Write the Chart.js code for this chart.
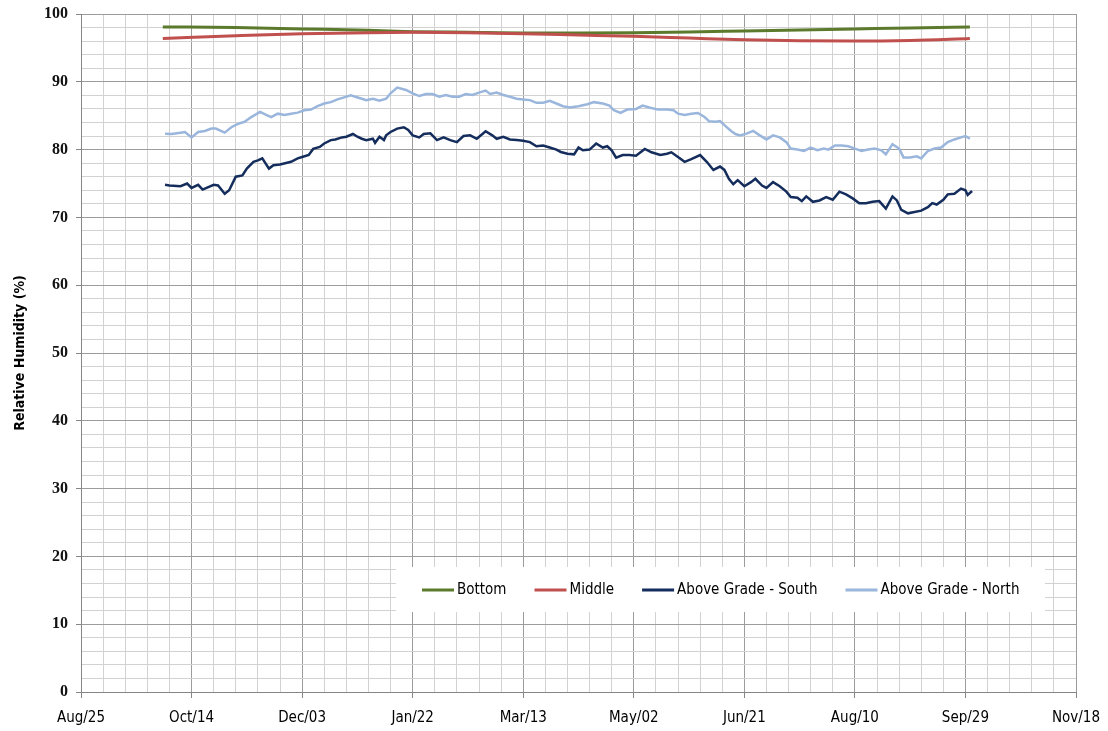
<!DOCTYPE html>
<html>
<head>
<meta charset="utf-8">
<title>Relative Humidity</title>
<script src="https://cdn.jsdelivr.net/npm/chart.js@4.4.1/dist/chart.umd.min.js"></script>
<style>
    body { margin: 0; background: #fff; }
    #wrap { width: 1108px; height: 731px; }
</style>
</head>
<body>
<div id="wrap"><canvas id="rh-chart" width="1108" height="731"></canvas></div>
<script>
// ===== DATA =====
// x values are days after Aug/25
const xTickLabels = ['Aug/25', 'Oct/14', 'Dec/03', 'Jan/22', 'Mar/13', 'May/02', 'Jun/21', 'Aug/10', 'Sep/29', 'Nov/18'];
const seriesNames = ['Bottom', 'Middle', 'Above Grade - South', 'Above Grade - North'];

const bottomDays = [37, 70, 100, 130, 150, 175, 200, 225, 250, 275, 300, 325, 350, 375, 402];
const bottomRH   = [98.1, 98.0, 97.8, 97.6, 97.4, 97.3, 97.2, 97.2, 97.25, 97.35, 97.5, 97.65, 97.8, 97.95, 98.1];

const middleDays = [37, 70, 100, 130, 150, 175, 200, 225, 250, 275, 300, 325, 350, 375, 402];
const middleRH   = [96.4, 96.8, 97.1, 97.25, 97.3, 97.25, 97.1, 96.9, 96.7, 96.45, 96.2, 96.05, 96.0, 96.1, 96.4];

const southDays = [38, 40, 45, 48, 50, 53, 55, 60, 62, 65, 67, 70, 73, 75, 78, 80, 82, 85, 87, 90,
    95, 98, 100, 103, 105, 108, 110, 113, 115, 118, 120, 123, 125, 127, 129, 132, 133, 135, 137, 138,
    140, 143, 146, 148, 150, 153, 155, 158, 161, 164, 167, 170, 173, 176, 179, 183, 186, 188, 191, 194,
    197, 200, 203, 206, 209, 212, 215, 217, 220, 223, 225, 227, 230, 233, 236, 238, 240, 242, 245, 248,
    251, 255, 258, 262, 265, 267, 270, 273, 276, 280, 283, 286, 289, 291, 293, 295, 297, 300, 303, 305,
    308, 310, 313, 316, 319, 321, 324, 326, 328, 331, 334, 337, 340, 343, 346, 349, 352, 355, 358, 361,
    364, 367, 369, 371, 374, 377, 380, 383, 385, 387, 390, 392, 395, 398, 400, 401, 403];
const southRH = [74.8, 74.7, 74.6, 75.0, 74.35, 74.8, 74.1, 74.8, 74.7, 73.5, 74.0, 76.0, 76.2, 77.2, 78.2, 78.4, 78.7, 77.2, 77.7, 77.8,
    78.2, 78.7, 78.9, 79.2, 80.1, 80.4, 80.9, 81.4, 81.5, 81.8, 81.9, 82.3, 81.9, 81.6, 81.4, 81.6, 81.0, 81.9, 81.4, 82.1,
    82.6, 83.1, 83.3, 82.9, 82.1, 81.8, 82.3, 82.4, 81.4, 81.8, 81.4, 81.1, 82.0, 82.1, 81.6, 82.7, 82.1, 81.6, 81.9, 81.5,
    81.4, 81.3, 81.1, 80.5, 80.6, 80.3, 80.0, 79.65, 79.4, 79.3, 80.3, 79.9, 80.0, 80.9, 80.3, 80.5, 79.9, 78.8, 79.2, 79.2,
    79.1, 80.1, 79.6, 79.2, 79.4, 79.6, 78.9, 78.2, 78.6, 79.2, 78.2, 77.0, 77.5, 77.0, 75.7, 74.9, 75.5, 74.6, 75.2, 75.7,
    74.7, 74.35, 75.2, 74.6, 73.8, 73.0, 72.9, 72.4, 73.1, 72.3, 72.5, 73.0, 72.6, 73.8, 73.4, 72.8, 72.1, 72.1, 72.3, 72.4,
    71.3, 73.1, 72.5, 71.1, 70.6, 70.8, 71.0, 71.5, 72.1, 71.9, 72.6, 73.4, 73.5, 74.25, 74.0, 73.3, 73.9];

const northDays = [38, 41, 45, 47, 50, 53, 56, 59, 61, 65, 68, 71, 74, 77, 81, 84, 86, 89, 92, 95,
    98, 101, 104, 107, 110, 113, 116, 119, 122, 124, 127, 129, 132, 135, 138, 140, 143, 147, 150, 153,
    156, 159, 162, 165, 168, 171, 174, 177, 180, 183, 185, 188, 191, 194, 197, 200, 203, 206, 209, 212,
    215, 218, 221, 225, 229, 232, 236, 239, 241, 244, 247, 251, 254, 257, 261, 265, 268, 270, 273, 276,
    279, 282, 284, 287, 289, 291, 294, 296, 298, 301, 304, 307, 310, 313, 316, 319, 321, 324, 327, 330,
    333, 336, 338, 341, 344, 347, 350, 353, 356, 359, 362, 364, 367, 370, 372, 375, 378, 380, 383, 386,
    389, 392, 395, 398, 400, 402];
const northRH = [82.35, 82.3, 82.5, 82.6, 81.8, 82.6, 82.75, 83.1, 83.1, 82.5, 83.3, 83.8, 84.1, 84.8, 85.55, 85.1, 84.8, 85.3, 85.1, 85.3,
    85.45, 85.8, 85.9, 86.4, 86.8, 87.0, 87.4, 87.7, 88.0, 87.8, 87.5, 87.3, 87.5, 87.2, 87.5, 88.3, 89.15, 88.8, 88.3, 87.9,
    88.2, 88.2, 87.8, 88.05, 87.8, 87.8, 88.2, 88.05, 88.4, 88.7, 88.2, 88.4, 88.05, 87.8, 87.5, 87.4, 87.3, 86.9, 86.9, 87.2,
    86.8, 86.4, 86.2, 86.4, 86.7, 87.0, 86.8, 86.5, 85.8, 85.4, 85.9, 86.0, 86.5, 86.2, 85.9, 85.9, 85.8, 85.3, 85.1, 85.3,
    85.4, 84.8, 84.2, 84.1, 84.2, 83.6, 82.75, 82.3, 82.1, 82.35, 82.75, 82.1, 81.5, 82.1, 81.8, 81.1, 80.15, 80.0, 79.8, 80.3,
    79.9, 80.15, 80.0, 80.6, 80.6, 80.5, 80.15, 79.8, 80.0, 80.15, 79.9, 79.3, 80.8, 80.15, 78.85, 78.85, 79.0, 78.7, 79.8, 80.15,
    80.3, 81.1, 81.5, 81.8, 82.0, 81.6];

// ===== HELPERS =====
function toPoints(days, values) {
    return days.map((d, i) => ({ x: d, y: values[i] }));
}

const MINOR_GRID = '#d2d2d2';
const MAJOR_GRID = '#9c9c9c';
const AXIS_COLOR = '#868686';
const NARROW_FONT = '"Liberation Sans Narrow", "Arial Narrow", "DejaVu Sans Condensed", sans-serif';

// legend drawn inside the plot, like the original spreadsheet chart
const insideLegend = {
    id: 'insideLegend',
    afterDraw(chart) {
        const ctx = chart.ctx;
        ctx.save();
        ctx.fillStyle = '#ffffff';
        ctx.fillRect(396, 567, 649, 45);
        ctx.font = '15px ' + NARROW_FONT;
        ctx.textBaseline = 'middle';
        ctx.textAlign = 'left';
        const y = 590;
        let x = 422;
        chart.data.datasets.forEach(ds => {
            ctx.strokeStyle = ds.borderColor;
            ctx.lineWidth = 3;
            ctx.beginPath();
            ctx.moveTo(x, y);
            ctx.lineTo(x + 32, y);
            ctx.stroke();
            x += 35;
            ctx.fillStyle = '#000';
            ctx.fillText(ds.label, x, y);
            x += ctx.measureText(ds.label).width + 28;
        });
        ctx.restore();
    }
};

// ===== CHART =====
const ctx = document.getElementById('rh-chart');

new Chart(ctx, {
    type: 'line',
    data: {
        datasets: [
            {
                label: seriesNames[0],
                data: toPoints(bottomDays, bottomRH),
                borderColor: '#5b7a2c',
                borderWidth: 3,
                pointRadius: 0,
                cubicInterpolationMode: 'monotone',
                order: 3
            },
            {
                label: seriesNames[1],
                data: toPoints(middleDays, middleRH),
                borderColor: '#c0504d',
                borderWidth: 3,
                pointRadius: 0,
                cubicInterpolationMode: 'monotone',
                order: 2
            },
            {
                label: seriesNames[2],
                data: toPoints(southDays, southRH),
                borderColor: '#142d5c',
                borderWidth: 2.5,
                pointRadius: 0,
                tension: 0,
                order: 1
            },
            {
                label: seriesNames[3],
                data: toPoints(northDays, northRH),
                borderColor: '#9ab6dc',
                borderWidth: 2.5,
                pointRadius: 0,
                tension: 0,
                order: 0
            }
        ]
    },
    options: {
        responsive: false,
        animation: false,
        devicePixelRatio: 1,
        layout: { padding: { left: 0, right: 32, top: 14, bottom: 0 } },
        plugins: {
            legend: { display: false },
            tooltip: { enabled: false }
        },
        scales: {
            x: {
                type: 'linear',
                min: 0, max: 450,
                ticks: {
                    stepSize: 10,
                    autoSkip: false,
                    maxRotation: 0,
                    padding: 11,
                    color: '#000',
                    font: { family: NARROW_FONT, size: 15 },
                    callback: function (value) {
                        return value % 50 === 0 ? xTickLabels[value / 50] : '';
                    }
                },
                grid: {
                    color: c => (c.tick && c.tick.value % 50 === 0 ? MAJOR_GRID : MINOR_GRID),
                    tickColor: c => (c.tick && c.tick.value % 50 === 0 ? AXIS_COLOR : 'rgba(0,0,0,0)'),
                    tickLength: 6
                },
                border: { color: AXIS_COLOR, width: 1 },
                afterFit: s => { s.height = 39; s.paddingLeft = 0; s.paddingRight = 0; }
            },
            y: {
                min: 0, max: 100,
                title: {
                    display: true,
                    text: 'Relative Humidity (%)',
                    color: '#000',
                    font: { family: NARROW_FONT, size: 14, weight: 'bold' },
                    padding: { top: 12, bottom: 4 }
                },
                ticks: {
                    stepSize: 2,
                    autoSkip: false,
                    padding: 8,
                    color: '#111',
                    font: { family: '"Liberation Serif", "Times New Roman", serif', size: 16, weight: 'bold' },
                    callback: function (value) {
                        return value % 10 === 0 ? String(value) : '';
                    }
                },
                grid: {
                    color: c => (c.tick && c.tick.value % 10 === 0 ? MAJOR_GRID : MINOR_GRID),
                    tickColor: c => (c.tick && c.tick.value % 10 === 0 ? AXIS_COLOR : 'rgba(0,0,0,0)'),
                    tickLength: 5
                },
                border: { color: AXIS_COLOR, width: 1 },
                afterFit: s => { s.width = 81; s.paddingTop = 0; s.paddingBottom = 0; }
            }
        }
    },
    plugins: [insideLegend]
});
</script>
</body>
</html>
